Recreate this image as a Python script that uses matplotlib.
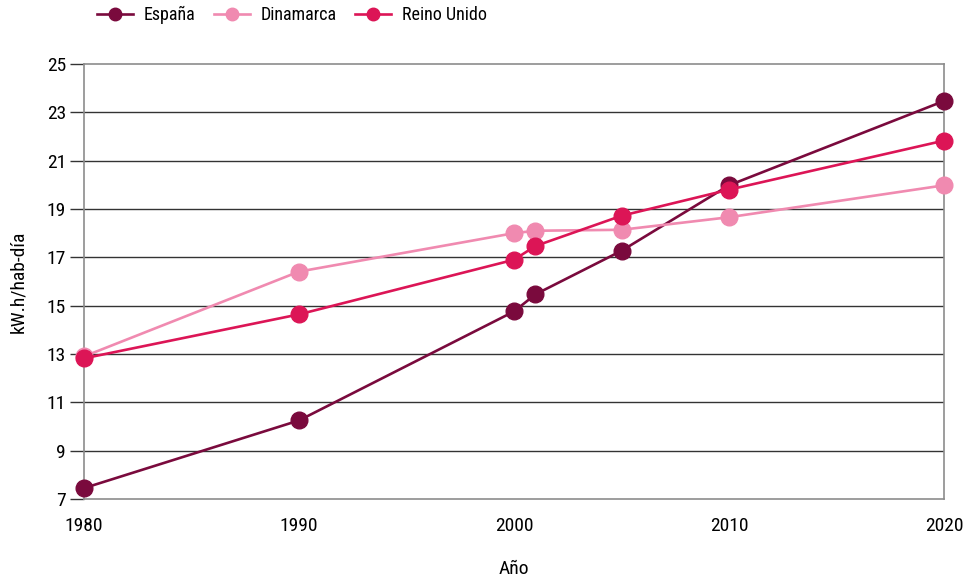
import matplotlib.pyplot as plt

plt.rcParams['font.family'] = ['Roboto Condensed', 'DejaVu Sans']

# Consumo por habitante y año
anios_es = [1980, 1990, 2000, 2001, 2005, 2010, 2020]
espana = [7.45, 10.25, 14.76, 15.47, 17.27, 19.98, 23.47]

anios_dk = [1980, 1990, 2000, 2001, 2005, 2010, 2020]
dinamarca = [12.9, 16.41, 18.0, 18.1, 18.14, 18.66, 19.98]

anios_uk = [1980, 1990, 2000, 2001, 2005, 2010, 2020]
reino_unido = [12.82, 14.64, 16.9, 17.47, 18.72, 19.8, 21.83]

ticks_x = [1980, 1990, 2000, 2010, 2020]
ticks_y = [7, 9, 11, 13, 15, 17, 19, 21, 23, 25]

fig = plt.figure(figsize=(9.71, 5.83), dpi=100)
ax = fig.add_axes([0.0865, 0.1441, 0.8857, 0.7461])

series = [
    (anios_es, espana, '#7a0a3d', 'España'),
    (anios_dk, dinamarca, '#f08ab0', 'Dinamarca'),
    (anios_uk, reino_unido, '#dc1556', 'Reino Unido'),
]
for x, y, color, nombre in series:
    ax.plot(x, y, color=color, lw=1.9, marker='o', ms=12, label=nombre,
            clip_on=False, zorder=3)

ax.set_xlim(1980, 2020)
ax.set_ylim(7, 25)
ax.set_xticks(ticks_x)
ax.set_yticks(ticks_y)
ax.tick_params(axis='x', length=0, pad=13, labelsize=14)
ax.tick_params(axis='y', length=10, width=1, color='#333333', pad=3, labelsize=14)

# Líneas horizontales de referencia
for v in ticks_y[1:-1]:
    ax.axhline(v, color='#333333', lw=1, zorder=1)

for lado in ['left', 'right', 'top', 'bottom']:
    ax.spines[lado].set_color('#8c8c8c')
    ax.spines[lado].set_linewidth(1.2)

ax.set_xlabel('Año', fontsize=14, labelpad=18)
ax.set_ylabel('kW.h/hab-día', fontsize=14, labelpad=14)

leyenda = fig.legend(loc='upper left', bbox_to_anchor=(0.083, 1.017), ncol=3, frameon=False,
                     fontsize=13, handlelength=2.0, columnspacing=1.0, handletextpad=0.6,
                     markerscale=0.75)

fig.savefig('out.png', dpi=100)
